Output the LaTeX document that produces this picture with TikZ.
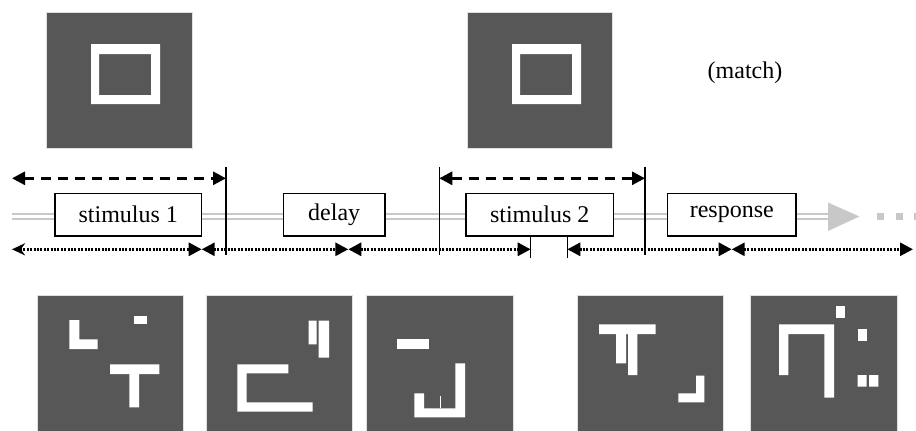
\documentclass[tikz,border=0pt]{standalone}
\usepackage{fontspec}
\setmainfont{Liberation Serif}
\usepackage{xcolor}
\usepackage{tikz}
\usetikzlibrary{arrows.meta, positioning, calc}

\definecolor{panelgray}{RGB}{87,87,87}
\definecolor{railgray}{RGB}{200,200,200}

\begin{document}
\begin{tikzpicture}[
	x=0.5pt, y=-0.5pt,
	>={Triangle[length=6.5pt, width=6.5pt]},
	font=\fontsize{12}{14}\selectfont,
	phase/.style={rectangle, draw, fill=white, line width=0.6pt, inner sep=0pt, minimum height=21.3pt},
	panel/.style={fill=panelgray, draw=gray!25, line width=0.5pt},
	bar/.style={fill=white},
	rail/.style={draw=railgray, line width=0.75pt, double=white, double distance=1.75pt},
	bound/.style={draw, line width=0.6pt},
	span/.style={<->, line width=1.4pt, dash pattern=on 5pt off 3.5pt},
	part/.style={<->, line width=1.4pt, dash pattern=on 1pt off 0.7pt}
	]
	
	\useasboundingbox (0,0) rectangle (916,430);
	\clip (0,0) rectangle (916,430);
	
	% Sample panels (top)
	\fill[panel] (46,12) rectangle (192,148);
	\fill[bar, even odd rule] (91,44) rectangle (160,104) (99,54) rectangle (151,95);
	\fill[panel] (467,12) rectangle (612,148);
	\fill[bar, even odd rule] (512,44) rectangle (581,104) (520,54) rectangle (572,95);
	
	\node (match) at (745,73) {(match)};
	
	% Time line
	\coordinate (start) at (12,216.5);
	\coordinate (head) at (828,216.5);
	\draw[rail] (start) -- (head);
	\fill[railgray] (828,202.5) -- (859.5,216.5) -- (828,231) -- cycle;
	\foreach \x in {877,895.5,914}
		\fill[railgray] (\x,213) rectangle ++(7,7);
	
	% Phases
	\node[phase, minimum width=73.3pt] (stim1) at (128.3,214.7) {stimulus 1};
	\node[phase, minimum width=50.8pt] (delay) at (334.2,214.7) {delay};
	\node[phase, minimum width=73.7pt] (stim2) at (539.7,214.7) {stimulus 2};
	\node[phase, minimum width=64.2pt] (resp) at (731.8,214.7) {response};
	
	% Boundaries
	\coordinate (b1t) at (226,166.7);
	\coordinate (b1b) at (226,255);
	\coordinate (b2t) at (439.3,166.7);
	\coordinate (b2b) at (439.3,255);
	\coordinate (b3t) at (645,166.7);
	\coordinate (b3b) at (645,255);
	\draw[bound] (b1t) -- (b1b);
	\draw[bound] (b2t) -- (b2b);
	\draw[bound] (b3t) -- (b3b);
	
	\coordinate (t1t) at (530.7,236.7);
	\coordinate (t1b) at (530.7,258.3);
	\coordinate (t2t) at (567.3,236.7);
	\coordinate (t2b) at (567.3,258.3);
	\draw[bound] (t1t) -- (t1b);
	\draw[bound] (t2t) -- (t2b);
	
	% Stimulus spans
	\coordinate (s1l) at (12,178.3);
	\coordinate (s1r) at (226,178.3);
	\coordinate (s2l) at (439.3,178.3);
	\coordinate (s2r) at (645,178.3);
	\draw[span] (s1l) -- (s1r);
	\draw[span] (s2l) -- (s2r);
	
	% Sample intervals
	\coordinate (p0) at (12,249.3);
	\coordinate (p1) at (201.7,249.3);
	\coordinate (p2) at (348.3,249.3);
	\coordinate (p3) at (530.7,249.3);
	\coordinate (p4) at (567.3,249.3);
	\coordinate (p5) at (731.7,249.3);
	\coordinate (p6) at (913,249.3);
	\draw[part, {Stealth[length=6.5pt, width=6pt]}->] (p0) -- (p1);
	\draw[part] (p1) -- (p2);
	\draw[part] (p2) -- (p3);
	\draw[part] (p4) -- (p5);
	\draw[part] (p5) -- (p6);
	
	% Sample panels (bottom)
	\fill[panel] (37,295) rectangle (183,441);
	\fill[bar] (69.3,320) rectangle (79.3,349) (69.3,339.3) rectangle (97.7,349);
	\fill[bar] (134,315.7) rectangle (146.7,324.3);
	\fill[bar] (110,364.3) rectangle (159.3,374) (129.3,364.3) rectangle (139,407.3);
	
	\fill[panel] (206,295) rectangle (352,441);
	\fill[bar] (237.3,364.3) rectangle (288.3,373.3) (237.3,364.3) rectangle (246.7,411.7)
		(237.3,402.3) rectangle (312.7,411.7);
	\fill[bar] (308.7,320.7) rectangle (316.7,344.3) (318.7,320.7) rectangle (329,357.7);
	
	\fill[panel] (366,295) rectangle (513,441);
	\fill[bar] (396.7,339.3) rectangle (429.3,348.7);
	\fill[bar] (414.3,393.3) rectangle (424,417.3) (414.3,408.3) rectangle (465,417.3)
		(455.3,363.3) rectangle (465,417.3);
	\draw[white, line width=0.4pt] (440,396) -- (440,408.3);
	
	\fill[panel] (577,295) rectangle (723,441);
	\fill[bar] (599,324.3) rectangle (655.7,334) (616,324.3) rectangle (626,363.3)
		(628,324.3) rectangle (637.3,375);
	\fill[bar] (696,375.7) rectangle (704.3,402.3) (678.3,393.3) rectangle (704.3,402.3);
	
	\fill[panel] (750,295) rectangle (897,441);
	\fill[bar] (779,324.3) rectangle (788.3,375) (779,324.3) rectangle (833.3,334)
		(824.3,324.3) rectangle (834,397.7);
	\fill[bar] (835.7,306) rectangle (845.3,317.7);
	\fill[bar] (857.7,329.3) rectangle (866.7,340.7);
	\fill[bar] (857.7,375) rectangle (866.7,386.7) (869,375) rectangle (878.3,386.7);
	
\end{tikzpicture}
\end{document}
